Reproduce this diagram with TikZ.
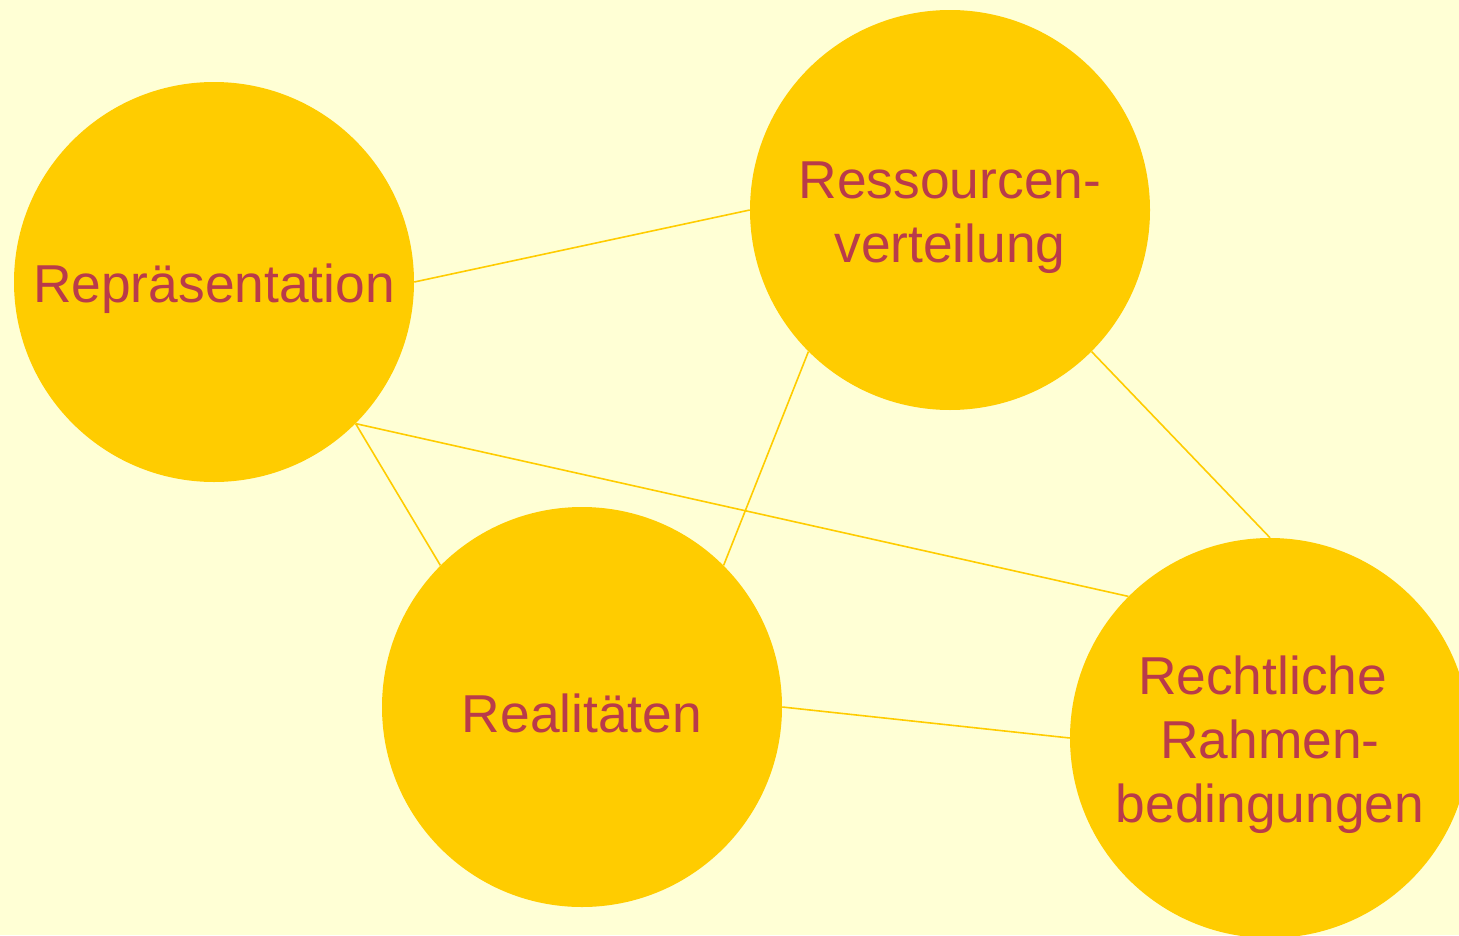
\documentclass[tikz,border=0pt]{standalone}
\usepackage{fontspec}
\setmainfont{Liberation Sans}
\usepackage{xcolor}
\definecolor{paper}{HTML}{FFFFD5}
\definecolor{gold}{HTML}{FFCC00}
\definecolor{wine}{HTML}{B93B4A}

\begin{document}
\begin{tikzpicture}[x=0.75pt,y=-0.75pt,
  topic/.style={circle,fill=gold,minimum size=300pt,inner sep=0pt,text=wine,
    align=center,font=\fontsize{40}{48}\selectfont,text height=#1},
  topic/.default=39pt,
  link/.style={gold,line width=1.2pt}]
\useasboundingbox (0,0) rectangle (1459,935);
\clip (0,0) rectangle (1459,935);
\fill [paper] (0,0) rectangle (1459,935);
\node [topic] (rep) at (214,282) {Repräsentation};
\node [topic=87pt] (res) at (950,210) {Ressourcen-\\verteilung};
\node [topic] (real) at (582,707) {Realitäten};
\node [topic=135pt] (recht) at (1270,738) {Rechtliche\kern.28em\\Rahmen-\\bedingungen};
\draw [link] (rep.east) -- (res.west);
\draw [link] (rep.south east) -- (real.north west);
\draw [link] (rep.south east) -- (recht.north west);
\draw [link] (res.south west) -- (real.north east);
\draw [link] (res.south east) -- (recht.north);
\draw [link] (real.east) -- (recht.west);
\end{tikzpicture}
\end{document}
